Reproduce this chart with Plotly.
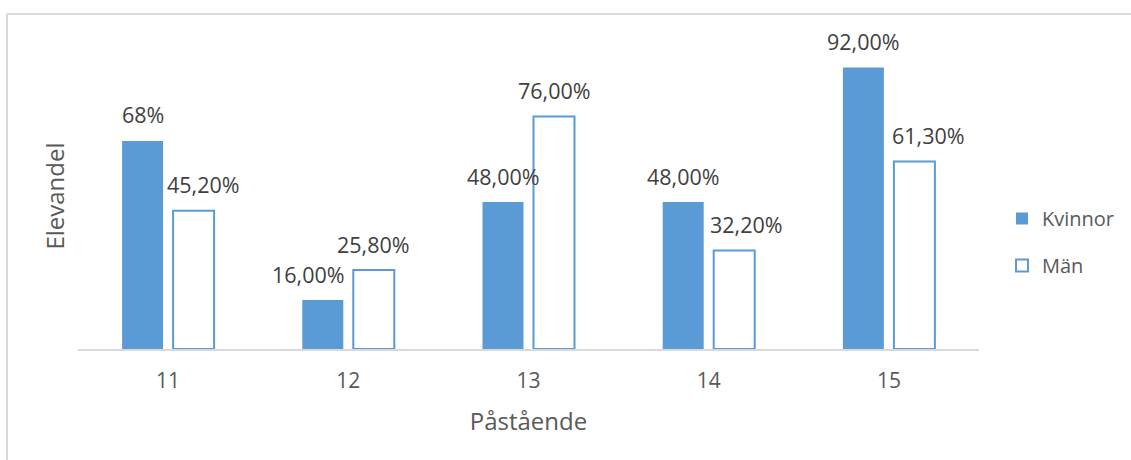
import plotly.graph_objects as go

# Data
pastaende = ["11", "12", "13", "14", "15"]
kvinnor = [68.0, 16.0, 48.0, 48.0, 92.0]
man = [45.2, 25.8, 76.0, 32.2, 61.3]
kvinnor_labels = ["68%", "16,00%", "48,00%", "48,00%", "92,00%"]
man_labels = ["45,20%", "25,80%", "76,00%", "32,20%", "61,30%"]

# Horizontal nudges (px) for individual value labels
kvinnor_nudge = [0, -14, 0, 0, 0]
man_nudge = [10, 0, 0, 12, 14]

W, H = 1131, 460
ML, MR, MT, MB = 78, 152, 43, 111
PW, PH = W - ML - MR, H - MT - MB

BLUE = "#5B9BD5"
TEXT = "#595959"
LABEL = "#404040"
FONT = "Open Sans"
BAR_HALF = 25.5  # px from category centre to each bar centre


def px_x(p):
    return (p - ML) / PW


def px_y(p):
    return (H - MB - p) / PH


fig = go.Figure()
fig.add_trace(go.Bar(
    name="Kvinnor", x=pastaende, y=kvinnor, legendgroup="k",
    marker=dict(color=BLUE, line=dict(width=0)),
))
fig.add_trace(go.Bar(
    name="Män", x=pastaende, y=man, legendgroup="m",
    marker=dict(color="white", line=dict(color=BLUE, width=2)),
))

# Value labels above each bar (x given as category index)
label_font = dict(family=FONT, size=21.5, color=LABEL)
annotations = []
for i, (v, t, n) in enumerate(zip(kvinnor, kvinnor_labels, kvinnor_nudge)):
    annotations.append(dict(x=i, y=v, text=t, showarrow=False,
                            xshift=-BAR_HALF + n, yshift=26, font=label_font))
for i, (v, t, n) in enumerate(zip(man, man_labels, man_nudge)):
    annotations.append(dict(x=i, y=v, text=t, showarrow=False,
                            xshift=BAR_HALF + n, yshift=26, font=label_font))

# Chart frame (top and left edges)
frame = dict(color="#D9D9D9", width=2)
shapes = [
    dict(type="line", xref="paper", yref="paper", x0=px_x(7), x1=px_x(W + 5),
         y0=px_y(14), y1=px_y(14), line=frame),
    dict(type="line", xref="paper", yref="paper", x0=px_x(7), x1=px_x(7),
         y0=px_y(14), y1=px_y(H + 5), line=frame),
]

fig.update_layout(
    width=W, height=H,
    margin=dict(l=ML, r=MR, t=MT, b=MB, pad=0, autoexpand=False),
    paper_bgcolor="white", plot_bgcolor="white",
    font=dict(family=FONT, size=20, color=TEXT),
    barmode="group", bargap=0.434, bargroupgap=0.196,
    showlegend=True,
    legend=dict(x=px_x(1002), xanchor="left", y=px_y(242), yanchor="middle",
                font=dict(family=FONT, size=20, color=TEXT),
                tracegroupgap=18, bgcolor="rgba(0,0,0,0)"),
    xaxis=dict(
        type="category", range=[-0.5, 4.5], automargin=False,
        showline=True, linecolor="#D9D9D9", linewidth=2,
        ticks="", showgrid=False, zeroline=False, ticklabelstandoff=12,
        tickfont=dict(family=FONT, size=21, color=TEXT),
        title=dict(text="Påstående", standoff=20,
                   font=dict(family=FONT, size=24, color=TEXT)),
    ),
    yaxis=dict(
        range=[0, 100], showticklabels=False, showgrid=False, zeroline=False,
        showline=False, ticks="", automargin=False,
        title=dict(text="Elevandel", standoff=5,
                   font=dict(family=FONT, size=24, color=TEXT)),
    ),
    annotations=annotations,
    shapes=shapes,
)

fig.write_html("out.html")
